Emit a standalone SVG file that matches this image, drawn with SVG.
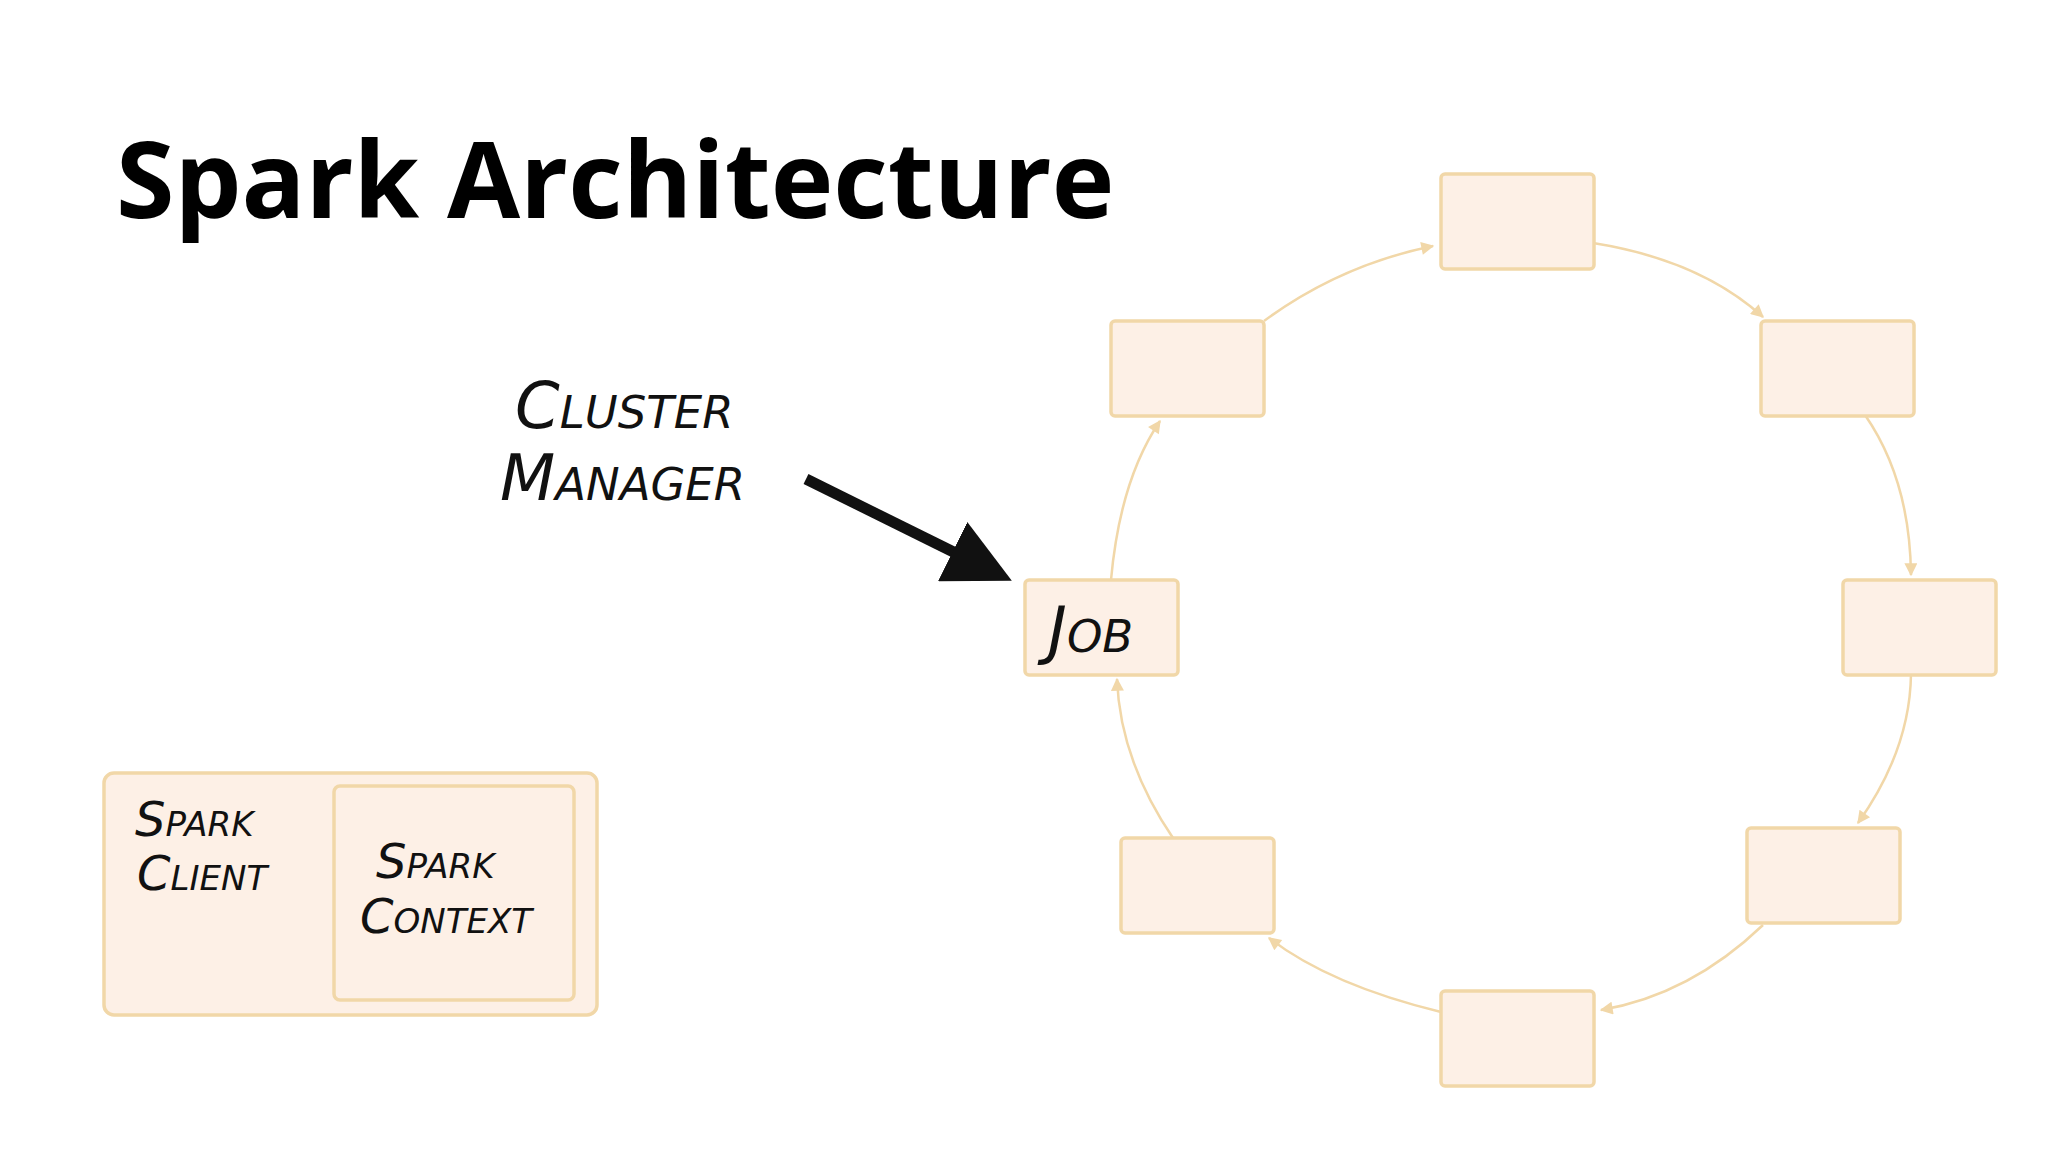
<svg xmlns="http://www.w3.org/2000/svg" width="2048" height="1152" viewBox="0 0 2048 1152">
<style>
.n{fill:#fdf0e6;stroke:#f1d7a8;stroke-width:3.5}
.c{fill:none;stroke:#f1d7a8;stroke-width:2.5}
.h{font-family:"DejaVu Sans",sans-serif;font-variant:small-caps;fill:#111;font-style:italic}
</style>
<defs>
<marker id="a" viewBox="0 0 10 10" refX="9" refY="5" markerWidth="15" markerHeight="13" orient="auto" markerUnits="userSpaceOnUse"><path d="M0,0L10,5L0,10z" fill="#f1d7a8"/></marker>
<marker id="b" viewBox="0 0 10 10" refX="8" refY="5" markerWidth="6" markerHeight="6" orient="auto"><path d="M0,0L10,5L0,10z" fill="#111"/></marker>
</defs>
<rect width="2048" height="1152" fill="#fff"/>
<text x="116" y="218" font-family="'Open Sans',sans-serif" font-weight="bold" font-size="106" fill="#000">Spark Architecture</text>
<g id="connectors">
<path class="c" d="M1264,321 Q1340,265 1433,246" marker-end="url(#a)"/>
<path class="c" d="M1593,243 Q1700,260 1763,317" marker-end="url(#a)"/>
<path class="c" d="M1865,415 Q1910,480 1911,575" marker-end="url(#a)"/>
<path class="c" d="M1911,674 Q1910,750 1858,823" marker-end="url(#a)"/>
<path class="c" d="M1763,925 Q1690,995 1601,1010" marker-end="url(#a)"/>
<path class="c" d="M1441,1012 Q1330,985 1269,938" marker-end="url(#a)"/>
<path class="c" d="M1173,838 Q1120,760 1117,679" marker-end="url(#a)"/>
<path class="c" d="M1111,580 Q1120,480 1160,421" marker-end="url(#a)"/>
<path d="M806,479 L1000,575" stroke="#111" stroke-width="11" fill="none" marker-end="url(#b)"/>
</g>
<g id="top"><rect class="n" x="1441" y="174" width="153" height="95" rx="4"/></g>
<g id="ul"><rect class="n" x="1111" y="321" width="153" height="95" rx="4"/></g>
<g id="ur"><rect class="n" x="1761" y="321" width="153" height="95" rx="4"/></g>
<g id="job"><rect class="n" x="1025" y="580" width="153" height="95" rx="4"/><text class="h" x="1048" y="652" font-size="64">Job</text></g>
<g id="r"><rect class="n" x="1843" y="580" width="153" height="95" rx="4"/></g>
<g id="ll"><rect class="n" x="1121" y="838" width="153" height="95" rx="4"/></g>
<g id="lr"><rect class="n" x="1747" y="828" width="153" height="95" rx="4"/></g>
<g id="bottom"><rect class="n" x="1441" y="991" width="153" height="95" rx="4"/></g>
<g id="client"><rect class="n" x="104" y="773" width="493" height="242" rx="10" stroke-width="5"/>
<text class="h" x="135" y="836" font-size="48">Spark</text><text class="h" x="137" y="890" font-size="48">Client</text></g>
<g id="context"><rect class="n" x="334" y="786" width="240" height="214" rx="6" stroke-width="5"/>
<text class="h" x="376" y="878" font-size="48">Spark</text><text class="h" x="360" y="933" font-size="48">Context</text></g>
<g id="cm"><text class="h" x="515" y="428" font-size="64">Cluster</text><text class="h" x="500" y="500" font-size="64">Manager</text></g>
</svg>
